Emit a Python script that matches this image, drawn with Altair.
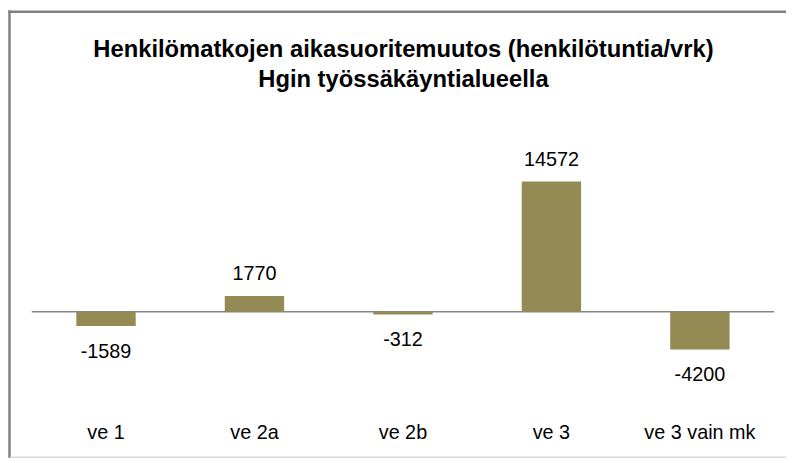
import altair as alt
import pandas as pd

categories = ["ve 1", "ve 2a", "ve 2b", "ve 3", "ve 3 vain mk"]
values = [-1589, 1770, -312, 14572, -4200]
title_lines = ["Henkilömatkojen aikasuoritemuutos (henkilötuntia/vrk)", "Hgin työssäkäyntialueella"]

df = pd.DataFrame({"cat": categories, "val": values})
df["lab"] = [str(v) for v in values]
df_pos = df[df["val"] >= 0]
df_neg = df[df["val"] < 0]
df_zero = pd.DataFrame({"val": [0]})
df_one = pd.DataFrame({"k": [0]})

FONT = "Liberation Sans"
BAR = "#948A54"
BORDER = "#808080"

x = alt.X("cat:N", sort=categories, title=None,
          scale=alt.Scale(domain=categories, paddingInner=0.6, paddingOuter=0.3),
          axis=alt.Axis(domain=False, ticks=False, labelAngle=0, labelPadding=22,
                        labelFont=FONT, labelFontSize=20, labelColor="#000000"))
y = alt.Y("val:Q", title=None, scale=alt.Scale(domain=[-10000, 16000], nice=False),
          axis=None)

bars = alt.Chart(df).mark_bar(color=BAR, size=60).encode(x=x, y=y)

zero = alt.Chart(df_zero).mark_rule(color="#868686", strokeWidth=1.5).encode(y=y)

pos = alt.Chart(df_pos).mark_text(
    font=FONT, fontSize=20, color="#000000", baseline="middle", dy=-22
).encode(x=x, y=y, text="lab:N")

neg = alt.Chart(df_neg).mark_text(
    font=FONT, fontSize=20, color="#000000", baseline="middle", dy=26
).encode(x=x, y=y, text="lab:N")

title1 = alt.Chart(df_one).mark_text(
    font=FONT, fontSize=24, fontWeight="bold", color="#000000", baseline="middle", align="center"
).encode(x=alt.value(375.5), y=alt.value(-120), text=alt.value(title_lines[0]))
title2 = alt.Chart(df_one).mark_text(
    font=FONT, fontSize=24, fontWeight="bold", color="#000000", baseline="middle", align="center"
).encode(x=alt.value(375.5), y=alt.value(-90), text=alt.value(title_lines[1]))

border_left = alt.Chart(df_one).mark_rule(color=BORDER, strokeWidth=2.5).encode(
    x=alt.value(-22.5), y=alt.value(-160), y2=alt.value(292))
border_top = alt.Chart(df_one).mark_rule(color=BORDER, strokeWidth=2.5).encode(
    y=alt.value(-158.5), x=alt.value(-23.5), x2=alt.value(762))
border_bottom = alt.Chart(df_one).mark_rule(color="#d9d9d9", strokeWidth=1.5).encode(
    y=alt.value(291.5), x=alt.value(-22), x2=alt.value(762))

chart = alt.layer(zero, bars, pos, neg, title1, title2,
                  border_left, border_top, border_bottom).properties(
    width=750, height=235,
    autosize=alt.AutoSizeParams(type="none"),
    padding={"left": 24, "top": 160, "right": 12, "bottom": 60},
).configure_view(stroke=None)

chart.save("out.html", embed_options={"renderer": "svg", "actions": False})
